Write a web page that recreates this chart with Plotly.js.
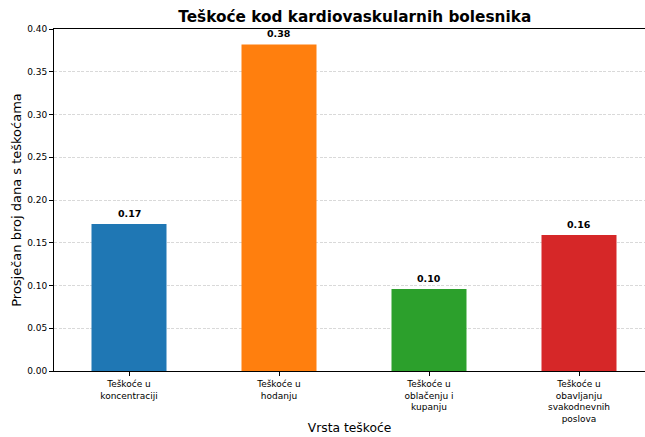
<!DOCTYPE html>
<html>
<head>
<meta charset="utf-8">
<script src="https://cdn.plot.ly/plotly-3.0.1.min.js"></script>
<style>html,body{margin:0;padding:0;background:#fff}#chart{width:645px;height:437px}</style>
</head>
<body>
<div id="chart"></div>
<script>
const categories = ["Teškoće u<br>koncentraciji", "Teškoće u<br>hodanju", "Teškoće u<br>oblačenju i<br>kupanju", "Teškoće u<br>obavljanju<br>svakodnevnih<br>poslova"];
const values = [0.172, 0.382, 0.096, 0.159];
const colors = ["#1f77b4", "#ff7f0e", "#2ca02c", "#d62728"];
const yTicks = [0, 0.05, 0.10, 0.15, 0.20, 0.25, 0.30, 0.35, 0.40];
const yTickLabels = ["0.00", "0.05", "0.10", "0.15", "0.20", "0.25", "0.30", "0.35", "0.40"];
const xIdx = categories.map((c, i) => i);

const font = "DejaVu Sans, sans-serif";
const trace = {
  type: "bar",
  x: xIdx,
  y: values,
  width: 0.5,
  marker: {color: colors, line: {width: 0}},
  hoverinfo: "skip"
};
const annotations = values.map((v, i) => ({
  x: i, y: v, xref: "x", yref: "y",
  text: "<b>" + v.toFixed(2) + "</b>",
  showarrow: false, yanchor: "bottom", yshift: 3,
  font: {family: font, size: 9.5, color: "#000"}
}));
const layout = {
  width: 645, height: 437,
  margin: {l: 54, r: 0, t: 29, b: 66, pad: 0},
  paper_bgcolor: "#fff", plot_bgcolor: "#fff",
  showlegend: false,
  title: {text: "<b>Teškoće kod kardiovaskularnih bolesnika</b>", font: {family: font, size: 15.3, color: "#000"}, x: 0.55, xref: "container", xanchor: "center", y: 0.962, yanchor: "middle"},
  xaxis: {
    range: [-0.5, 3.44], tickvals: xIdx, ticktext: categories,
    ticks: "outside", ticklen: 4, tickcolor: "#000", tickwidth: 1,
    tickfont: {family: font, size: 9, color: "#000"},
    showgrid: false, zeroline: false, showline: true, linecolor: "#000", linewidth: 1, mirror: true,
    title: {text: "Vrsta teškoće", font: {family: font, size: 12.3, color: "#000"}, standoff: 0}
  },
  yaxis: {
    range: [0, 0.40], tickvals: yTicks, ticktext: yTickLabels,
    ticks: "outside", ticklen: 4, tickcolor: "#000", tickwidth: 1,
    tickfont: {family: font, size: 9, color: "#000"},
    showgrid: true, gridcolor: "#d0d0d0", griddash: "3px,1.5px", gridwidth: 0.8,
    zeroline: false, showline: true, linecolor: "#000", linewidth: 1, mirror: false,
    title: {text: "Prosječan broj dana s teškoćama", font: {family: font, size: 13, color: "#000"}, standoff: 2}
  },
  annotations: annotations
};
Plotly.newPlot("chart", [trace], layout, {staticPlot: true, displayModeBar: false});
</script>
</body>
</html>
